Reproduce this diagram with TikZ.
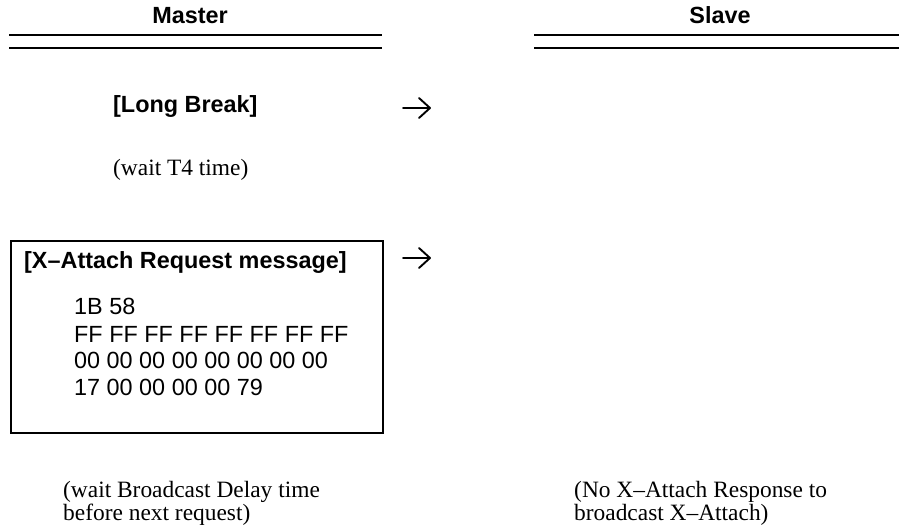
\documentclass[tikz,border=0pt]{standalone}
\usepackage{fontspec}
\setmainfont{Liberation Serif}
\setsansfont{Liberation Sans}
\begin{document}
\begin{tikzpicture}[x=1pt,y=-1pt,
  hdr/.style={font=\fontsize{23.4}{27}\selectfont\sffamily\bfseries, inner sep=0pt, anchor=base},
  boldtxt/.style={font=\fontsize{23.4}{27}\selectfont\sffamily\bfseries, inner sep=0pt, anchor=base west},
  hextxt/.style={font=\fontsize{23.4}{27}\selectfont\sffamily, inner sep=0pt, anchor=base west},
  note/.style={font=\fontsize{23.4}{23.3}\selectfont\rmfamily, inner sep=0pt, align=left},
  glypharrow/.style={line width=1.9pt, line cap=round, line join=round},
  rule/.style={line width=2pt},
  msgbox/.style={draw, line width=1.8pt, minimum width=372pt, minimum height=192pt, inner sep=0pt, anchor=north west}]
\useasboundingbox (0,0) rectangle (899,529);
% headers
\node[hdr] (master) at (190,24) {Master};
\node[hdr] (slave) at (720,24) {Slave};
\draw[rule] (9,35) -- (382,35);
\draw[rule] (9,48) -- (382,48);
\draw[rule] (534,35) -- (899,35);
\draw[rule] (534,48) -- (899,48);
% long break
\node[boldtxt] (lb) at (113,113) {[Long Break]};
\coordinate (a1) at (403,108);
\draw[glypharrow] (a1) -- ++(27,0) (a1) ++(16,-10) -- ++(11,10) -- ++(-11,10);
\node[note, anchor=base west] (w1) at (113,176) {(wait T4 time)};
% request box
\node[msgbox] (box) at (10,240) {};
\node[boldtxt] (req) at (24,269) {[X–Attach Request message]};
\coordinate (a2) at (403,258);
\draw[glypharrow] (a2) -- ++(27,0) (a2) ++(16,-10) -- ++(11,10) -- ++(-11,10);
\node[hextxt] (h1) at (74,314) {1B 58};
\node[hextxt] (h2) at (74,342) {FF FF FF FF FF FF FF FF};
\node[hextxt] (h3) at (74,368) {00 00 00 00 00 00 00 00};
\node[hextxt] (h4) at (74,395) {17 00 00 00 00 79};
% bottom notes
\node[note, anchor=north west] (w2) at (63,481) {(wait Broadcast Delay time\\before next request)};
\node[note, anchor=north west] (w3) at (574,481) {(No X–Attach Response to\\broadcast X–Attach)};
\end{tikzpicture}
\end{document}
